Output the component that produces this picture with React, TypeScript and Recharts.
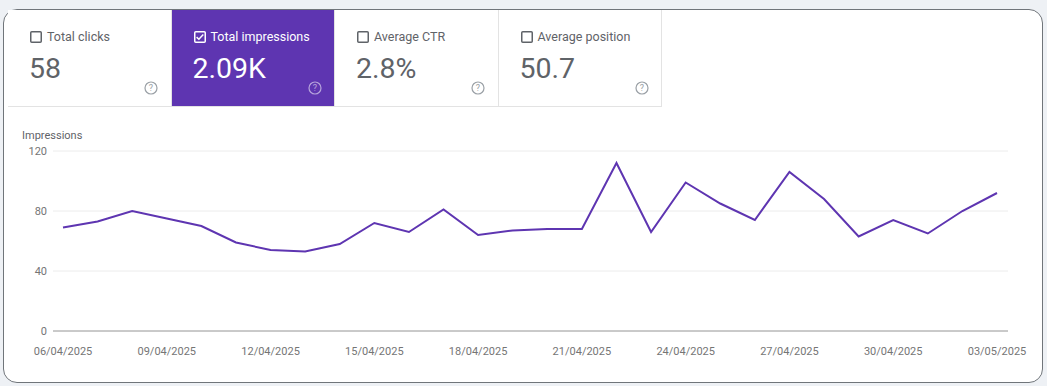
import React from 'react';
import { LineChart, Line, XAxis, YAxis, CartesianGrid } from 'recharts';

const dates = [
  '06/04/2025', '07/04/2025', '08/04/2025', '09/04/2025', '10/04/2025', '11/04/2025', '12/04/2025',
  '13/04/2025', '14/04/2025', '15/04/2025', '16/04/2025', '17/04/2025', '18/04/2025', '19/04/2025',
  '20/04/2025', '21/04/2025', '22/04/2025', '23/04/2025', '24/04/2025', '25/04/2025', '26/04/2025',
  '27/04/2025', '28/04/2025', '29/04/2025', '30/04/2025', '01/05/2025', '02/05/2025', '03/05/2025',
];
const impressions = [
  69, 73, 80, 75, 70, 59, 54,
  53, 58, 72, 66, 81, 64, 67,
  68, 68, 112, 66, 99, 85, 74,
  106, 88, 63, 74, 65, 80, 92,
];
const yTicks = [0, 40, 80, 120];

const metricLabels = ['Total clicks', 'Total impressions', 'Average CTR', 'Average position'];
const metricValues = ['58', '2.09K', '2.8%', '50.7'];
const activeMetric = 1;

const PURPLE = '#5e35b1';
const FONT = 'Roboto, "Noto Sans", sans-serif';

const rows = dates.map((d, i) => ({ date: d, impressions: impressions[i] }));

function Checkbox({ checked }: { checked: boolean }) {
  const c = checked ? '#ffffff' : '#5f6368';
  return (
    <svg width={12} height={12} style={{ position: 'absolute', left: 22, top: 21 }}>
      <rect x={0.75} y={0.75} width={10.5} height={10.5} rx={1} fill="none" stroke={c} strokeWidth={1.5} />
      {checked && <path d="M2.6 6.1 L4.9 8.3 L9.3 3.6" fill="none" stroke={c} strokeWidth={1.5} />}
    </svg>
  );
}

function Help({ active }: { active: boolean }) {
  const c = active ? 'rgba(255,255,255,0.55)' : '#9aa0a6';
  return (
    <svg width={14} height={14} style={{ position: 'absolute', left: 136, top: 71 }}>
      <circle cx={7} cy={7} r={6} fill="none" stroke={c} strokeWidth={1.2} />
      <text x={7} y={10.4} textAnchor="middle" fontSize={9} fontFamily={FONT} fill={c}>?</text>
    </svg>
  );
}

function Tile({ label, value, index }: { label: string; value: string; index: number }) {
  const active = index === activeMetric;
  return (
    <div
      style={{
        position: 'absolute',
        left: 8 + index * 163.5,
        top: 10,
        width: 163.5,
        height: 97,
        boxSizing: 'border-box',
        background: active ? PURPLE : '#ffffff',
        borderRight: '1px solid #e3e3e3',
        borderBottom: '1px solid #e3e3e3',
      }}
    >
      <Checkbox checked={active} />
      <div style={{ position: 'absolute', left: 39, top: 19, fontSize: 12.5, color: active ? '#ffffff' : '#5f6368' }}>{label}</div>
      <div style={{ position: 'absolute', left: 21, top: 42, fontSize: 28.5, color: active ? '#ffffff' : '#5f6368' }}>{value}</div>
      <Help active={active} />
    </div>
  );
}

export default function App() {
  return (
    <div style={{ position: 'fixed', left: 0, top: 0, width: 1047, height: 386, background: '#eef1f5', fontFamily: FONT }}>
      <div
        style={{
          position: 'absolute',
          left: 3,
          top: 9,
          width: 1038,
          height: 372,
          background: '#ffffff',
          border: '1px solid #70757a',
          borderRadius: 14,
          overflow: 'hidden',
        }}
      />
      {metricLabels.map((l, i) => (
        <Tile key={l} label={l} value={metricValues[i]} index={i} />
      ))}
      <div style={{ position: 'absolute', left: 22, top: 129, fontSize: 11, color: '#5f6368' }}>Impressions</div>
      <div style={{ position: 'absolute', left: 0, top: 140 }}>
        <LineChart width={1047} height={230} data={rows} margin={{ top: 11, right: 39, bottom: 9, left: 8 }}>
          <CartesianGrid vertical={false} stroke="#ececec" />
          <XAxis
            dataKey="date"
            interval={2}
            tickLine={false}
            axisLine={{ stroke: '#9e9e9e' }}
            tick={{ fontSize: 11, fill: '#757575', fontFamily: FONT }}
            tickMargin={10}
            padding={{ left: 10, right: 11 }}
            height={30}
          />
          <YAxis
            domain={[0, 120]}
            ticks={yTicks}
            axisLine={false}
            tickLine={false}
            tickSize={4}
            width={45}
            tick={{ fontSize: 11, fill: '#757575', fontFamily: FONT }}
          />
          <Line
            type="linear"
            dataKey="impressions"
            stroke={PURPLE}
            strokeWidth={2}
            dot={false}
            isAnimationActive={false}
          />
        </LineChart>
      </div>
    </div>
  );
}
